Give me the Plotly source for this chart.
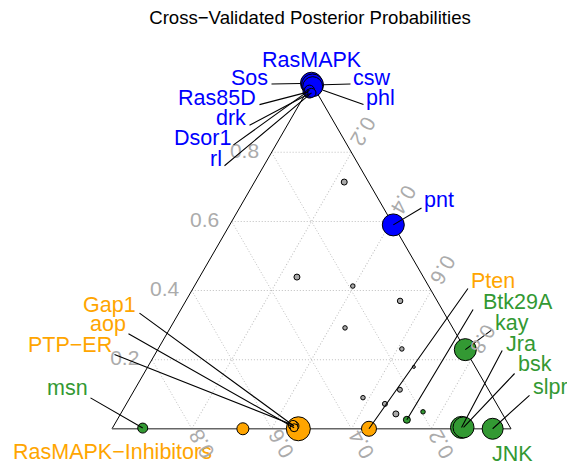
import math
import plotly.graph_objects as go

FIG_W, FIG_H = 567, 468
FONT = "Liberation Sans, Arial, Helvetica, sans-serif"

# ---------------- data ----------------
genes = ["Sos", "csw", "phl", "Ras85D", "drk", "Dsor1", "rl", "pnt",
         "", "Gap1", "aop", "PTP−ER", "", "Pten",
         "msn", "kay", "Jra", "bsk", "slpr", "Btk29A", "",
         "", "", "", "", "", "", "", "", "", "", ""]
groups = (["RasMAPK"] * 8 + ["RasMAPK−Inhibitors"] * 6 + ["JNK"] * 7 + ["unassigned"] * 11)
# posterior probabilities: a = RasMAPK (top), b = RasMAPK-Inhibitors (bottom-left), c = JNK (bottom-right)
p_rasmapk = [1.000, 0.995, 0.990, 0.975, 0.970, 0.980, 0.972, 0.590,
             0.000, 0.008, 0.003, 0.011, 0.000, 0.000,
             0.002, 0.229, 0.004, 0.004, 0.000, 0.026, 0.049,
             0.714, 0.439, 0.413, 0.370, 0.292, 0.231, 0.179, 0.090, 0.113, 0.072, 0.043]
p_inhib = [0.000, 0.000, 0.002, 0.020, 0.020, 0.015, 0.014, 0.000,
           0.533, 0.540, 0.542, 0.541, 0.672, 0.356,
           0.922, 0.000, 0.122, 0.117, 0.046, 0.248, 0.196,
           0.061, 0.317, 0.190, 0.093, 0.270, 0.158, 0.154, 0.326, 0.222, 0.280, 0.267]
p_jnk = [0.000, 0.005, 0.008, 0.005, 0.010, 0.005, 0.014, 0.410,
         0.467, 0.452, 0.455, 0.448, 0.328, 0.644,
         0.076, 0.771, 0.874, 0.879, 0.954, 0.726, 0.755,
         0.225, 0.244, 0.397, 0.537, 0.438, 0.611, 0.667, 0.584, 0.665, 0.648, 0.690]
point_weight = [22, 22, 20, 11, 9, 10, 9, 22,
                24, 10, 8, 9, 12, 15,
                10, 22, 22, 21, 21, 7, 4.5,
                6, 6, 4.5, 5.5, 4.5, 4.5, 3, 4.5, 5, 5, 6]

corner_names = ["RasMAPK", "RasMAPK−Inhibitors", "JNK"]
tick_vals = [0.2, 0.4, 0.6, 0.8]
tick_text = ["0.2", "0.4", "0.6", "0.8"]
title_text = "Cross−Validated Posterior Probabilities"

# ---------------- styles ----------------
group_colors = {"RasMAPK": "#0000FF", "RasMAPK−Inhibitors": "#FFA500",
                "JNK": "#339933", "unassigned": "#A9A9A9"}
LABEL_FS = 21.5
TICK_FS = 21
TICK_COLOR = "#ABABAB"

# label layout (pixels): text x, text baseline, anchor, leader-line start x, y, standoff
label_layout = {
    "Sos":    (269, 85, "right", 270, 84, 11),
    "csw":    (352, 85, "left", 352, 84, 11),
    "Ras85D": (257, 105, "right", 258, 105, 0),
    "phl":    (365, 105, "left", 365, 105, 11),
    "drk":    (247, 125, "right", 248, 126, 0),
    "Dsor1":  (232, 145, "right", 232, 146, 0),
    "rl":     (223, 166, "right", 223, 167, 0),
    "pnt":    (423, 207, "left", 423, 207, 0),
    "Gap1":   (137, 312, "right", 138, 312, 0),
    "aop":    (127, 331, "right", 127, 333, 0),
    "PTP−ER": (113, 352, "right", 113, 354, 0),
    "msn":    (89, 395, "right", 89, 397, 0),
    "Pten":   (470, 288, "left", 469, 287, 0),
    "Btk29A": (482, 309, "left", 474, 308, 0),
    "kay":    (494, 330, "left", 493, 329, 0),
    "Jra":    (505, 351, "left", 503, 349, 0),
    "bsk":    (517, 371, "left", 516, 372, 0),
    "slpr":   (532, 394, "left", 531, 394, 0),
}
corner_layout = {"RasMAPK": (312, 67), "RasMAPK−Inhibitors": (112, 459), "JNK": (512, 461)}
corner_colors = {"RasMAPK": "#0000FF", "RasMAPK−Inhibitors": "#FFA500", "JNK": "#339933"}
# offsets (px) of the rotated tick labels from their tick point on the edge
B_LABEL_OFFSET = (9.5, 15.5)
C_LABEL_OFFSET = (12.0, -21.0)

# ternary domain in paper coords
dom_x = [112 / FIG_W, 511 / FIG_W]
dom_y = [1 - 429 / FIG_H, 1 - 83 / FIG_H]

# replicate plotly's ternary geometry to locate points in pixel space
wmax = (dom_x[1] - dom_x[0]) * FIG_W
hmax = (dom_y[1] - dom_y[0]) * FIG_H
w_over_h = math.sqrt(4 / 3)
if wmax > w_over_h * hmax:
    tri_h = hmax
    tri_w = tri_h * w_over_h
else:
    tri_w = wmax
    tri_h = tri_w / w_over_h
tri_x0 = FIG_W * (dom_x[0] + dom_x[1]) / 2 - tri_w / 2
tri_y0 = FIG_H * (1 - (dom_y[0] + dom_y[1]) / 2) - tri_h / 2


def to_px(a, b, c):
    s = a + b + c
    a, c = a / s, c / s
    return tri_x0 + tri_w * (c + a / 2), tri_y0 + tri_h * (1 - a)


n = len(genes)
order = sorted(range(n), key=lambda i: -point_weight[i])

fig = go.Figure()
fig.add_trace(go.Scatterternary(
    a=[p_rasmapk[i] for i in order],
    b=[p_inhib[i] for i in order],
    c=[p_jnk[i] for i in order],
    mode="markers",
    cliponaxis=False,
    hoverinfo="skip",
    marker=dict(size=[point_weight[i] for i in order],
                color=[group_colors[groups[i]] for i in order],
                line=dict(color="black", width=1), opacity=1),
    showlegend=False,
))

annotations = []
for i, g in enumerate(genes):
    if not g:
        continue
    tx, base, anch, lx, ly, so = label_layout[g]
    px, py = to_px(p_rasmapk[i], p_inhib[i], p_jnk[i])
    annotations.append(dict(
        x=px / FIG_W, y=1 - py / FIG_H, xref="paper", yref="paper",
        ax=lx - px, ay=ly - py, text="", showarrow=True, arrowhead=0,
        arrowwidth=1.1, arrowcolor="black", standoff=so, startstandoff=0))
    annotations.append(dict(
        x=tx / FIG_W, y=1 - (base - 0.3465 * LABEL_FS) / FIG_H, xref="paper", yref="paper",
        text=g, showarrow=False, xanchor=anch, yanchor="middle", borderpad=0,
        font=dict(family=FONT, size=LABEL_FS, color=group_colors[groups[i]])))

for name in corner_names:
    tx, base = corner_layout[name]
    annotations.append(dict(
        x=tx / FIG_W, y=1 - (base - 0.3465 * LABEL_FS) / FIG_H, xref="paper", yref="paper",
        text=name, showarrow=False, xanchor="center", yanchor="middle", borderpad=0,
        font=dict(family=FONT, size=LABEL_FS, color=corner_colors[name])))

# rotated tick labels for the b (bottom) and c (right) axes, placed at the ternary tick points
for v, t in zip(tick_vals, tick_text):
    bx, by = to_px(0.0, v, 1.0 - v)
    annotations.append(dict(
        x=(bx + B_LABEL_OFFSET[0]) / FIG_W, y=1 - (by + B_LABEL_OFFSET[1]) / FIG_H,
        xref="paper", yref="paper", text=t, showarrow=False, textangle=-120,
        xanchor="center", yanchor="middle", borderpad=0,
        font=dict(family=FONT, size=TICK_FS, color=TICK_COLOR)))
    cx, cy = to_px(1.0 - v, 0.0, v)
    annotations.append(dict(
        x=(cx + C_LABEL_OFFSET[0]) / FIG_W, y=1 - (cy + C_LABEL_OFFSET[1]) / FIG_H,
        xref="paper", yref="paper", text=t, showarrow=False, textangle=120,
        xanchor="center", yanchor="middle", borderpad=0,
        font=dict(family=FONT, size=TICK_FS, color=TICK_COLOR)))


def axis_style(**kw):
    d = dict(title=dict(text=""), tickvals=tick_vals, ticktext=tick_text, ticks="",
             showgrid=True, gridcolor="#BEBEBE", griddash="1px,2px", gridwidth=1,
             linecolor="black", linewidth=1, showline=True, min=0,
             tickfont=dict(family=FONT, size=TICK_FS, color=TICK_COLOR),
             layer="below traces")
    d.update(kw)
    return d


fig.update_layout(
    width=FIG_W, height=FIG_H, autosize=False,
    margin=dict(l=0, r=0, t=0, b=0),
    paper_bgcolor="white",
    font=dict(family=FONT),
    title=dict(text=title_text, x=310 / FIG_W, xanchor="center",
               y=1 - 17.5 / FIG_H, yanchor="middle", yref="container",
               font=dict(family=FONT, size=18.6, color="black")),
    ternary=dict(
        domain=dict(x=dom_x, y=dom_y), sum=1, bgcolor="white",
        aaxis=axis_style(ticktext=[t + "\u00a0\u2009" for t in tick_text]),
        baxis=axis_style(linecolor="#666666", linewidth=1.6, showticklabels=False),
        caxis=axis_style(showticklabels=False),
    ),
    annotations=annotations,
)

fig.write_html("out.html", config={"displayModeBar": False},
               post_script="document.body.style.margin='0';document.body.style.overflow='hidden';")
